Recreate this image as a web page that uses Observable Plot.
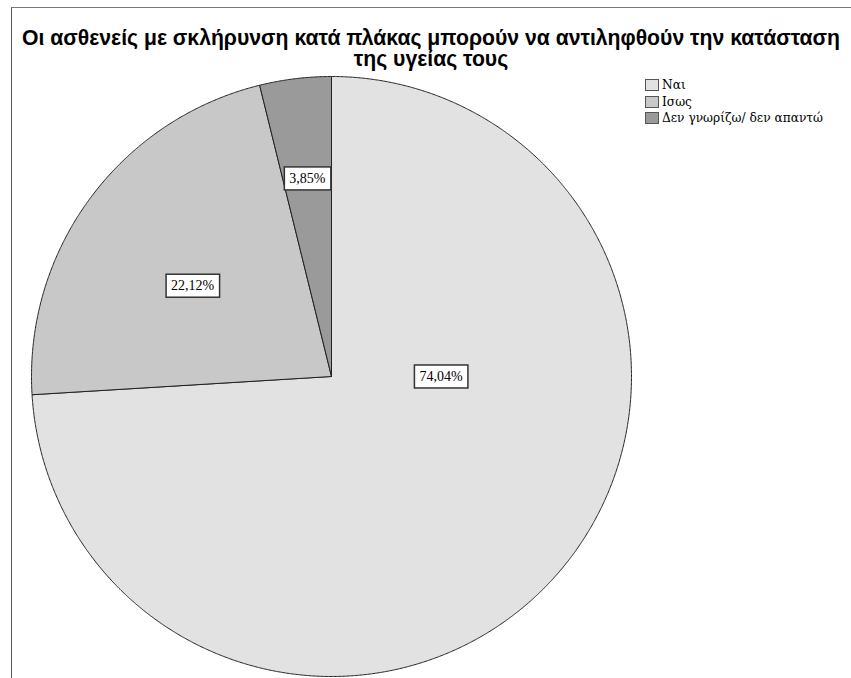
<!DOCTYPE html>
<html><head><meta charset="utf-8">
<script src="https://cdn.jsdelivr.net/npm/d3@7"></script>
<script src="https://cdn.jsdelivr.net/npm/@observablehq/plot@0.6"></script>
<style>
body{margin:0;background:#fff;}
#wrap{position:relative;width:851px;height:678px;overflow:hidden;background:#fff;}
#frame{position:absolute;left:11px;top:7px;width:900px;height:700px;border-left:1px solid #555;border-top:1px solid #777;}
.title{position:absolute;left:11px;width:840px;text-align:center;font-family:"Liberation Sans",Arial,sans-serif;font-weight:bold;font-size:21.2px;line-height:21px;color:#000;white-space:nowrap;}
#legend{position:absolute;left:645px;top:77px;font-family:"DejaVu Serif",serif;font-size:12.2px;color:#000;white-space:nowrap;}
#legend .row{display:flex;align-items:center;height:16.5px;}
#legend .sw{width:14px;height:12px;border:1px solid #555;margin-right:3px;box-sizing:border-box;}
#pie{position:absolute;left:21px;top:66px;}
</style></head>
<body><div id="wrap"><div id="frame"></div>
<div class="title" style="top:27px">Οι ασθενείς με σκλήρυνση κατά πλάκας μπορούν να αντιληφθούν την κατάσταση</div>
<div class="title" style="top:48px">της υγείας τους</div>
<div id="legend"></div>
<div id="pie"></div></div>
<script>
const categories = ["Ναι", "Ισως", "Δεν γνωρίζω/ δεν απαντώ"];
const percents = [74.04, 22.12, 3.85];
const valueLabels = ["74,04%", "22,12%", "3,85%"];
const colors = ["#e2e2e2", "#c8c8c8", "#9a9a9a"];

// slices (clockwise from 12 o'clock)
const total = d3.sum(percents);
let acc = 0;
const slices = categories.map((c, i) => {
  const a0 = acc / total * 2 * Math.PI;
  acc += percents[i];
  const a1 = acc / total * 2 * Math.PI;
  return {cat: c, a0, a1, label: valueLabels[i], share: percents[i] / total};
});
const pts = [];
for (const s of slices) {
  pts.push({cat: s.cat, x: 0, y: 0});
  const n = Math.max(2, Math.ceil((s.a1 - s.a0) / (Math.PI / 720)));
  for (let k = 0; k <= n; k++) {
    const t = s.a0 + (s.a1 - s.a0) * k / n;
    pts.push({cat: s.cat, x: Math.sin(t), y: Math.cos(t)});
  }
  pts.push({cat: s.cat, x: 0, y: 0});
}
// label placement: sector centroid; a majority slice is labelled on its horizontal axis
const labelPts = slices.map(s => {
  const half = (s.a1 - s.a0) / 2, mid = (s.a0 + s.a1) / 2;
  if (s.share > 0.5) {
    return {x: 0.365, y: 0, text: s.label};
  }
  const ang = s.share > 0.1 ? mid - 0.055 : mid;
  const r = 2 * Math.sin(half) / (3 * half) * (s.share > 0.1 ? 0.9 : 1);
  return {x: r * Math.sin(ang), y: r * Math.cos(ang), text: s.label};
});

const R = 300, S = 620, ext = S / 2 / R;
const chart = Plot.plot({
  width: S, height: S, margin: 0,
  x: {domain: [-ext, ext], axis: null},
  y: {domain: [-ext, ext], axis: null},
  color: {domain: categories, range: colors},
  marks: [
    Plot.line(pts, {x: "x", y: "y", z: "cat", fill: "cat", stroke: "#222", strokeWidth: 1, curve: "linear"}),
    Plot.text(labelPts, {x: "x", y: "y", text: "text", fontFamily: "Liberation Serif, Times New Roman, serif", fontSize: 14, fill: "#000"})
  ]
});
document.getElementById("pie").appendChild(chart);
// boxes behind the value labels
chart.querySelectorAll('g[aria-label="text"] text').forEach(t => {
  const b = t.getBBox();
  const r = document.createElementNS("http://www.w3.org/2000/svg", "rect");
  r.setAttribute("x", b.x - 5); r.setAttribute("y", b.y - 4);
  r.setAttribute("width", b.width + 10); r.setAttribute("height", b.height + 8);
  r.setAttribute("fill", "#fff"); r.setAttribute("stroke", "#333"); r.setAttribute("stroke-width", 1.5);
  const tr = t.getAttribute("transform");
  if (tr) r.setAttribute("transform", tr);
  t.parentNode.insertBefore(r, t);
});

const leg = document.getElementById("legend");
categories.forEach((c, i) => {
  const row = document.createElement("div"); row.className = "row";
  const sw = document.createElement("div"); sw.className = "sw"; sw.style.background = colors[i];
  const tx = document.createElement("span"); tx.textContent = c;
  row.appendChild(sw); row.appendChild(tx); leg.appendChild(row);
});
</script></body></html>
